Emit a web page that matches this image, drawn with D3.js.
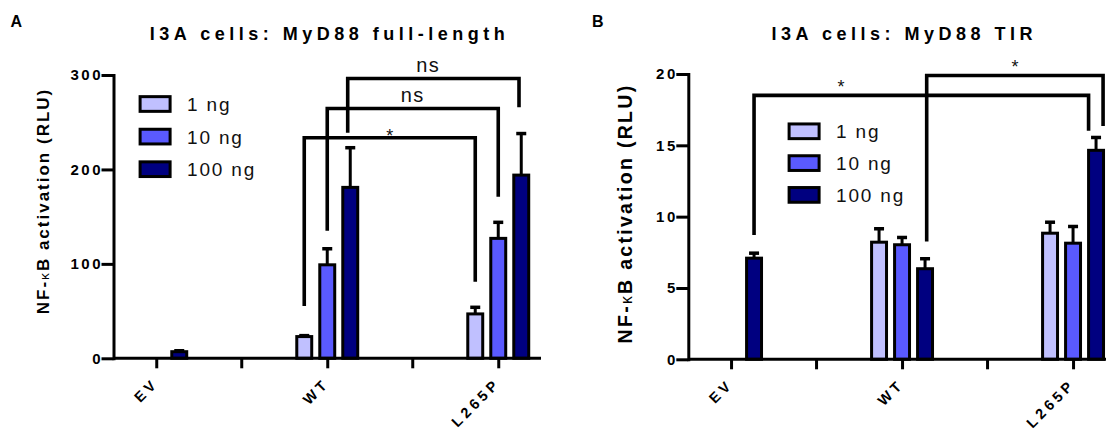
<!DOCTYPE html>
<html lang="en">
<head>
<meta charset="UTF-8">
<title>I3A cells: MyD88 NF-kB activation</title>
<script src="https://cdn.jsdelivr.net/npm/d3@7"></script>
<style>
  body { margin: 0; background: #fff; }
  svg { display: block; font-family: "Liberation Sans", Arial, sans-serif; }
  .axis path, .axis line { stroke: #000; stroke-width: 3px; }
  .axis .tick text { font-family: "Liberation Sans", Arial, sans-serif; font-size: 15px; font-weight: bold; letter-spacing: 2.5px; fill: #000; }
  .xlab { font-size: 14.5px; font-weight: bold; letter-spacing: 3.8px; }
  .legend text { font-size: 19px; letter-spacing: 1.8px; fill: #111; }
  .title { font-size: 18px; font-weight: bold; letter-spacing: 4.5px; }
  .ytitle { font-weight: bold; }
  .panel-id { font-size: 16px; font-weight: bold; }
</style>
</head>
<body>
<svg id="chart" width="1106" height="432"></svg>
<script>
var groups = ["EV", "WT", "L265P"];
var doses = ["1 ng", "10 ng", "100 ng"];
var doseColors = ["#c0c0ff", "#5a5aff", "#000080"];

// mean and top of the error bar, one row per construct, one column per dose (null = not measured)
var fullMean = [[null, null, 7], [23, 99, 181], [47, 127, 194]];
var fullErr  = [[null, null, 8], [24, 116, 223], [54, 144, 238]];
var fullTicks = [0, 100, 200, 300];

var tirMean = [[null, null, 7.09], [8.21, 8.03, 6.35], [8.84, 8.14, 14.65]];
var tirErr  = [[null, null, 7.44], [9.15, 8.54, 7.05], [9.61, 9.31, 15.55]];
var tirTicks = [0, 5, 10, 15, 20];

// significance brackets: from bar, to bar, level of the bar, where each leg stops, label
var fullBrackets = [
  { from: ["WT", "1 ng"],   to: ["L265P", "1 ng"],   level: 233.5, legs: [55.4, 81.1],   text: "*" },
  { from: ["WT", "10 ng"],  to: ["L265P", "10 ng"],  level: 264.5, legs: [135.1, 171.1], text: "ns" },
  { from: ["WT", "100 ng"], to: ["L265P", "100 ng"], level: 296.3, legs: [238.9, 265.8], text: "ns" }
];
var tirBrackets = [
  { from: ["EV", "100 ng"], to: ["L265P", "100 ng"], level: 18.5, legs: [8.72, 16.03], text: "*" },
  { from: ["WT", "100 ng"], to: ["L265P", "100 ng"], level: 19.9, legs: [8.25, 16.36], text: "*" }
];

var svg = d3.select("#chart");

function drawPanel(cfg) {
  var g = svg.append("g");
  var plotW = 427.5;

  var x = d3.scalePoint().domain(groups).range([cfg.left, cfg.left + plotW]).padding(0.25);
  var x1 = d3.scaleBand().domain(doses).range([-34.5, 34.5]).paddingInner(0.35).paddingOuter(0.175);
  var y = d3.scaleLinear().domain([0, cfg.ticks[cfg.ticks.length - 1]]).range([cfg.bottom, cfg.top]);
  var color = d3.scaleOrdinal().domain(doses).range(doseColors);

  var bars = [];
  groups.forEach(function(grp, i) {
    doses.forEach(function(d, j) {
      if (cfg.mean[i][j] != null) bars.push({ group: grp, dose: d, mean: cfg.mean[i][j], err: cfg.err[i][j] });
    });
  });
  var cx = function(d) { return x(d.group) + x1(d.dose) + x1.bandwidth() / 2; };

  // error bars (drawn first so the bar covers the stem)
  g.selectAll("line.stem").data(bars).enter().append("line")
    .attr("x1", cx).attr("x2", cx)
    .attr("y1", function(d) { return y(d.mean); })
    .attr("y2", function(d) { return y(d.err); })
    .attr("stroke", "#000").attr("stroke-width", 3);
  g.selectAll("line.cap").data(bars).enter().append("line")
    .attr("x1", function(d) { return cx(d) - 5; })
    .attr("x2", function(d) { return cx(d) + 5; })
    .attr("y1", function(d) { return y(d.err); })
    .attr("y2", function(d) { return y(d.err); })
    .attr("stroke", "#000").attr("stroke-width", 3.5);

  g.selectAll("rect.bar").data(bars).enter().append("rect")
    .attr("x", function(d) { return x(d.group) + x1(d.dose); })
    .attr("width", x1.bandwidth())
    .attr("y", function(d) { return y(d.mean); })
    .attr("height", function(d) { return y(0) - y(d.mean); })
    .attr("fill", function(d) { return color(d.dose); })
    .attr("stroke", "#000").attr("stroke-width", 3);

  // axes
  var yAxis = g.append("g").attr("class", "axis")
    .attr("transform", "translate(" + cfg.left + ",0)")
    .call(d3.axisLeft(y).tickValues(cfg.ticks).tickSize(12).tickSizeOuter(0).tickPadding(-1.5));
  yAxis.select(".domain").attr("stroke-linecap", "square");

  var xAxis = g.append("g").attr("class", "axis")
    .attr("transform", "translate(0," + y(0) + ")")
    .call(d3.axisBottom(x).tickSize(10).tickSizeOuter(0).tickFormat(""));
  xAxis.select(".domain").attr("d", "M" + cfg.left + ",0H" + (cfg.left + plotW));
  for (var k = 0; k < groups.length - 1; k++) {
    var mx = (x(groups[k]) + x(groups[k + 1])) / 2;
    xAxis.append("line").attr("x1", mx).attr("x2", mx).attr("y1", 0).attr("y2", 10);
  }

  g.selectAll("text.xlab").data(groups).enter().append("text")
    .attr("class", "xlab")
    .attr("text-anchor", "end")
    .attr("transform", function(d) { return "translate(" + (x(d) + 3) + "," + (y(0) + 26) + ") rotate(-45)"; })
    .text(function(d) { return d; });

  // brackets
  cfg.brackets.forEach(function(b, i) {
    var xa = x(b.from[0]) + x1(b.from[1]) + x1.bandwidth() * cfg.legPos[i][0];
    var xb = x(b.to[0]) + x1(b.to[1]) + x1.bandwidth() * cfg.legPos[i][1];
    var yl = y(b.level);
    g.append("path")
      .attr("d", "M" + xa + "," + y(b.legs[0]) + "V" + yl + "H" + xb + "V" + y(b.legs[1]))
      .attr("fill", "none").attr("stroke", "#000").attr("stroke-width", 3.6);
    var star = b.text === "*";
    g.append("text")
      .attr("x", xa + (xb - xa) * cfg.textPos[i])
      .attr("y", yl + (star ? cfg.starDy : -6.5))
      .attr("text-anchor", "middle")
      .attr("font-size", star ? 18 : 20)
      .attr("letter-spacing", star ? 0 : 1.5)
      .attr("fill", "#111")
      .text(b.text);
  });

  // legend
  var lg = g.append("g").attr("class", "legend");
  doses.forEach(function(d, j) {
    var cy = cfg.legend.y + j * cfg.legend.step;
    lg.append("rect").attr("x", cfg.legend.x).attr("y", cy - 7.35)
      .attr("width", 30).attr("height", 14.7)
      .attr("fill", color(d)).attr("stroke", "#000").attr("stroke-width", 3);
    lg.append("text").attr("x", cfg.legend.x + 47).attr("y", cy + 7).text(d);
  });

  // titles
  g.append("text").attr("class", "title")
    .attr("x", cfg.left + plotW / 2 + 2.25).attr("y", 40)
    .attr("text-anchor", "middle").text(cfg.title);

  var yt = g.append("text").attr("class", "ytitle")
    .attr("text-anchor", "middle")
    .attr("font-size", cfg.yTitle.size)
    .attr("letter-spacing", cfg.yTitle.spacing)
    .attr("transform", "translate(" + cfg.yTitle.x + "," + cfg.yTitle.y + ") rotate(-90)");
  yt.append("tspan").text("NF-");
  yt.append("tspan").attr("font-weight", "normal").attr("font-size", cfg.yTitle.size * 0.8).text("\u03BA");
  yt.append("tspan").text("B activation (RLU)");

  g.append("text").attr("class", "panel-id")
    .attr("x", cfg.id.x).attr("y", 27).text(cfg.id.text);
}

drawPanel({
  left: 113.5, top: 75, bottom: 358.3,
  ticks: fullTicks, mean: fullMean, err: fullErr,
  brackets: fullBrackets,
  legPos: [[0.5, 0.5], [0.5, 0.5], [0.33, 0.35]],
  textPos: [0.5, 0.5, 0.47],
  starDy: 4,
  legend: { x: 140.1, y: 104, step: 32.6 },
  title: "I3A cells: MyD88 full-length",
  yTitle: { x: 49, y: 201, size: 17, spacing: 2 },
  id: { x: 10.5, text: "A" }
});

drawPanel({
  left: 688.3, top: 74, bottom: 359.3,
  ticks: tirTicks, mean: tirMean, err: tirErr,
  brackets: tirBrackets,
  legPos: [[0.5, 0], [0.61, 0.97]],
  textPos: [0.26, 0.5],
  starDy: -2,
  legend: { x: 789.1, y: 131.3, step: 31.8 },
  title: "I3A cells: MyD88 TIR",
  yTitle: { x: 632, y: 213.5, size: 19.5, spacing: 2.3 },
  id: { x: 592, text: "B" }
});
</script>
</body>
</html>
